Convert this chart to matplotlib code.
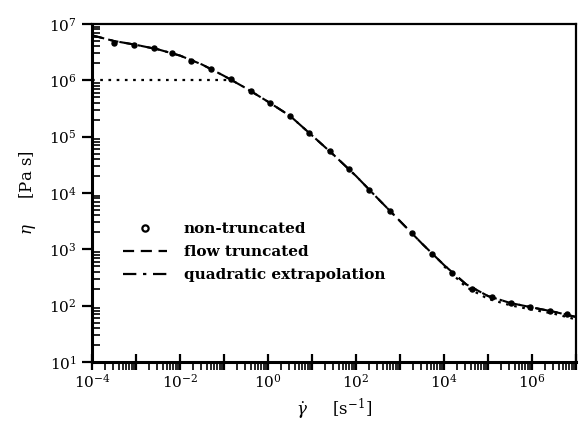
import matplotlib
matplotlib.use("Agg")
import matplotlib.pyplot as plt
from matplotlib.lines import Line2D
from matplotlib.ticker import LogLocator, FixedLocator, NullFormatter

plt.rcParams['font.family'] = ['DejaVu Serif']
plt.rcParams['mathtext.fontset'] = 'dejavuserif'

# shear rate [1/s] and viscosity [Pa s]
rate_pts = [3.2e-4, 9.0e-4, 2.5e-3, 6.6e-3, 1.8e-2, 5.0e-2, 0.145, 0.41, 1.1, 3.2,
            8.5, 25, 69, 200, 590, 1.9e3, 5.4e3, 1.5e4, 4.4e4, 1.2e5, 3.3e5,
            8.9e5, 2.6e6, 6.3e6]
eta_pts = [4.6e6, 4.2e6, 3.75e6, 3.05e6, 2.2e6, 1.59e6, 1.06e6, 6.5e5, 4.0e5, 2.3e5,
           1.16e5, 5.6e4, 2.67e4, 1.13e4, 4.8e3, 1.95e3, 830, 380, 198, 142, 111,
           95, 80, 71]

rate_line = [1e-4, 3.16e-4, 1e-3, 3.16e-3, 1e-2, 3.16e-2, 0.1, 0.316, 1, 3.16, 10,
             31.6, 100, 316, 1e3, 3.16e3, 1e4, 3.16e4, 1e5, 3.16e5, 1e6, 3.16e6, 1e7]
eta_flow = [6.3e6, 5.0e6, 4.27e6, 3.55e6, 2.75e6, 1.91e6, 1.2e6, 7.24e5, 4.17e5,
            2.34e5, 1.05e5, 4.68e4, 2.0e4, 7.9e3, 3.16e3, 1.26e3, 525, 240, 148,
            112, 93, 78, 63]
eta_quad = eta_flow

# dotted: truncation level and high-rate branch
rate_trunc = [1e-4, 0.15]
eta_trunc = [1e6, 1e6]
rate_high = [1e4, 3.16e4, 1e5, 3.16e5, 1e6, 3.16e6, 1e7]
eta_high = [500, 214, 132, 102, 85, 72, 57]

fig = plt.figure(figsize=(5.79, 4.45), dpi=100)
ax = fig.add_axes([0.159, 0.1865, 0.836, 0.7595])

dot = (0, (1.2, 2.5))
ax.plot(rate_trunc, eta_trunc, color='black', ls=dot, lw=1.6)
ax.plot(rate_high, eta_high, color='black', ls=dot, lw=1.6)
ax.plot(rate_line, eta_flow, color='black', ls=(0, (5, 3)), lw=1.5)
ax.plot(rate_line, eta_quad, color='black', ls=(0, (6, 3, 1.5, 3)), lw=1.5)
ax.plot(rate_pts, eta_pts, ls='none', marker='o', ms=3.6, mfc='black',
        mec='black', mew=1.0)

ax.set_xscale('log')
ax.set_yscale('log')
ax.set_xlim(1e-4, 1e7)
ax.set_ylim(1e1, 1e7)

ax.xaxis.set_major_locator(FixedLocator([10.0**k for k in range(-4, 8)]))
ax.set_xticklabels(['$10^{%d}$' % k if k % 2 == 0 else '' for k in range(-4, 8)])
ax.xaxis.set_minor_locator(LogLocator(base=10, subs=range(2, 10), numticks=30))
ax.xaxis.set_minor_formatter(NullFormatter())
ax.yaxis.set_major_locator(FixedLocator([10.0**k for k in range(1, 8)]))
ax.set_yticklabels(['$10^{%d}$' % k for k in range(1, 8)])
ax.yaxis.set_minor_locator(LogLocator(base=10, subs=range(2, 10), numticks=30))
ax.yaxis.set_minor_formatter(NullFormatter())

ax.tick_params(which='both', labelsize=11, top=False, right=False)
ax.tick_params(axis='y', which='major', direction='out', length=7, width=1.6, pad=4)
ax.tick_params(axis='y', which='minor', direction='in', length=6, width=1.2)
ax.tick_params(axis='x', which='major', direction='inout', length=12, width=1.6, pad=2)
ax.tick_params(axis='x', which='minor', direction='out', length=6, width=1.2)

for side in ['left', 'bottom']:
    ax.spines[side].set_linewidth(2.2)
for side in ['top', 'right']:
    ax.spines[side].set_linewidth(1.6)

ax.set_xlabel(r'$\dot{\gamma}$     [s$^{-1}$]', fontsize=12, labelpad=4)
ax.set_ylabel(r'$\eta$     [Pa s]', fontsize=12, labelpad=8)

handles = [
    Line2D([], [], ls='none', marker='o', ms=4.5, mfc='white', mec='black', mew=1.6),
    Line2D([], [], color='black', ls=(0, (5, 3)), lw=1.6),
    Line2D([], [], color='black', ls=(0, (6, 3, 1.5, 3)), lw=1.6),
]
labels = ['non-truncated', 'flow truncated', 'quadratic extrapolation']
ax.legend(handles, labels, loc='upper left', bbox_to_anchor=(0.035, 0.455),
          frameon=False, handlelength=2.9, handletextpad=1.1,
          labelspacing=0.6, prop={'weight': 'bold', 'size': 11})

fig.savefig('out.png', dpi=100)
